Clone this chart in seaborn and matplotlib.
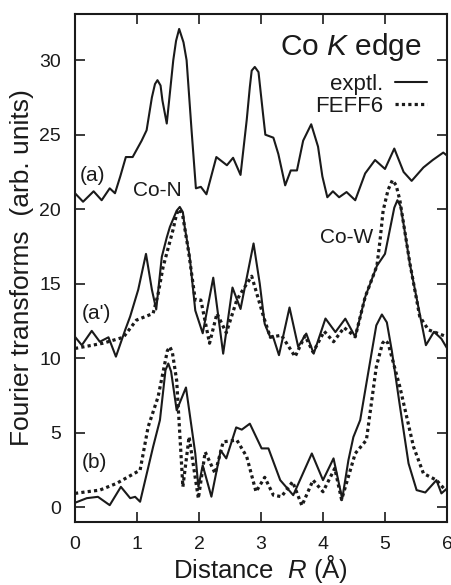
import matplotlib
matplotlib.use("Agg")
import matplotlib.pyplot as plt
from matplotlib.lines import Line2D
import seaborn as sns

# Curve (a): experimental only, shifted up
a_x = [0, 0.13, 0.30, 0.43, 0.56, 0.645, 0.73, 0.82, 0.93, 1.075, 1.155, 1.24, 1.29, 1.33, 1.38,
       1.41, 1.48, 1.585, 1.63, 1.68, 1.75, 1.80, 1.88, 1.95, 2.03, 2.12, 2.28, 2.45, 2.55, 2.67,
       2.77, 2.82, 2.85, 2.90, 2.96, 3.03, 3.07, 3.20, 3.28, 3.39, 3.48, 3.58, 3.68, 3.81, 3.92,
       3.99, 4.07, 4.16, 4.26, 4.38, 4.52, 4.68, 4.84, 5.00, 5.15, 5.30, 5.43, 5.62, 5.77, 5.94, 6.0]
a_y = [21.07, 20.5, 21.2, 20.6, 21.4, 21.07, 22.2, 23.5, 23.5, 24.6, 25.3, 27.5, 28.4, 28.66, 28.3,
       27.3, 25.75, 30.0, 31.3, 32.1, 31.2, 30.0, 25.3, 21.4, 21.5, 21.0, 23.5, 22.95, 23.45, 22.3,
       26.0, 28.2, 29.3, 29.55, 29.2, 26.5, 25.0, 24.8, 23.7, 21.6, 22.6, 22.6, 24.6, 25.7, 24.2,
       22.2, 20.8, 21.2, 20.8, 21.15, 20.6, 22.4, 23.3, 22.7, 24.07, 22.5, 21.9, 22.8, 23.3, 23.8, 23.6]

# Curve (a'): exptl. and FEFF6
ap_x = [0, 0.11, 0.27, 0.40, 0.54, 0.66, 0.81, 0.89, 1.02, 1.145, 1.24, 1.31, 1.40, 1.48, 1.53,
        1.64, 1.69, 1.74, 1.77, 1.85, 1.94, 2.06, 2.23, 2.39, 2.54, 2.67, 2.88, 2.98, 3.06, 3.15,
        3.19, 3.29, 3.46, 3.60, 3.73, 3.85, 4.04, 4.20, 4.36, 4.52, 4.68, 4.87, 5.00, 5.15, 5.20,
        5.25, 5.30, 5.40, 5.54, 5.66, 5.79, 5.91, 6.0]
ap_y = [11.43, 10.87, 11.83, 11.1, 11.4, 10.1, 11.9, 12.8, 14.6, 17.0, 14.6, 13.27, 16.8, 18.1, 18.8,
        19.9, 20.15, 19.8, 18.8, 16.8, 13.2, 11.67, 15.4, 10.3, 14.74, 13.3, 17.7, 15.0, 12.3, 11.4,
        11.5, 10.2, 13.4, 10.76, 11.65, 10.3, 12.66, 11.75, 12.65, 11.43, 14.1, 16.2, 17.0, 20.1, 20.6,
        20.2, 19.0, 16.35, 13.4, 10.87, 11.77, 11.3, 10.67]
apf_x = [0, 0.45, 0.78, 0.99, 1.26, 1.34, 1.42, 1.58, 1.64, 1.69, 1.74, 1.83, 1.94, 2.03, 2.17,
         2.29, 2.44, 2.61, 2.71, 2.85, 3.04, 3.15, 3.33, 3.55, 3.71, 3.84, 4.02, 4.17, 4.34, 4.52,
         4.68, 4.87, 4.92, 4.97, 5.05, 5.12, 5.18, 5.24, 5.40, 5.56, 5.70, 5.83, 6.0]
apf_y = [10.65, 11.0, 11.4, 12.55, 13.0, 14.3, 16.1, 18.6, 19.7, 20.0, 19.5, 17.2, 13.9, 13.9, 11.0,
         13.0, 11.7, 13.9, 14.6, 15.5, 12.8, 11.4, 11.54, 10.1, 11.5, 10.4, 11.8, 11.1, 12.05, 11.43,
         14.1, 16.2, 17.9, 19.9, 21.3, 21.95, 21.6, 20.6, 16.4, 12.8, 11.9, 11.7, 11.43]

# Curve (b): exptl. and FEFF6
b_x = [0, 0.19, 0.37, 0.56, 0.74, 0.89, 0.97, 1.05, 1.26, 1.37, 1.46, 1.505, 1.55, 1.64, 1.79,
       1.94, 1.99, 2.06, 2.20, 2.35, 2.44, 2.60, 2.69, 2.82, 3.01, 3.12, 3.31, 3.52, 3.82, 4.00,
       4.17, 4.31, 4.41, 4.49, 4.60, 4.70, 4.79, 4.86, 4.95, 5.03, 5.11, 5.24, 5.38, 5.51, 5.65,
       5.83, 5.91, 6.0]
b_y = [0.29, 0.6, 0.69, 0.13, 1.36, 0.6, 0.69, 0.36, 4.05, 5.84, 9.2, 9.64, 9.1, 6.5, 8.03,
       3.6, 1.36, 2.8, 0.7, 3.8, 3.27, 5.35, 5.2, 5.6, 3.94, 3.94, 1.81, 0.8, 3.6, 1.81,
       3.27, 0.55, 3.15, 4.7, 5.84, 8.3, 10.5, 12.2, 12.93, 12.4, 10.5, 6.8, 2.93, 1.14, 0.98,
       1.81, 0.92, 1.25]
bf_x = [0, 0.19, 0.40, 0.67, 1.05, 1.18, 1.34, 1.49, 1.53, 1.57, 1.64, 1.74, 1.84, 1.99, 2.10,
        2.26, 2.39, 2.61, 2.77, 2.92, 3.06, 3.20, 3.33, 3.51, 3.66, 3.84, 4.00, 4.19, 4.30, 4.52,
        4.70, 4.86, 4.96, 5.00, 5.05, 5.24, 5.46, 5.62, 5.83, 5.95, 6.0]
bf_y = [0.92, 1.03, 1.14, 1.59, 2.48, 5.39, 7.4, 10.5, 10.76, 10.4, 8.5, 1.36, 4.72, 0.58, 3.7,
        2.26, 4.38, 4.5, 3.38, 1.03, 2.0, 0.8, 0.7, 1.7, 0.1, 1.81, 1.03, 2.6, 0.5, 3.6,
        4.5, 9.42, 11.0, 11.2, 11.0, 8.07, 4.05, 2.26, 1.81, 1.25, 1.14]

x_ticks = [0, 1, 2, 3, 4, 5, 6]
y_ticks = [0, 5, 10, 15, 20, 25, 30]

sns.set_theme(style="ticks")
plt.rcParams['font.family'] = ['Liberation Sans', 'DejaVu Sans']
plt.rcParams['mathtext.fontset'] = 'custom'
plt.rcParams['mathtext.rm'] = 'Liberation Sans'
plt.rcParams['mathtext.it'] = 'Liberation Sans:italic'

INK = '#1a1a1a'
DOT = (0, (1, 1))

fig = plt.figure(figsize=(4.51, 5.85), dpi=100)
ax = fig.add_axes([0.1663, 0.1077, 0.8248, 0.8683])

sns.lineplot(x=a_x, y=a_y, ax=ax, color=INK, lw=1.5)
sns.lineplot(x=ap_x, y=ap_y, ax=ax, color=INK, lw=1.5)
sns.lineplot(x=apf_x, y=apf_y, ax=ax, color=INK, lw=2.3, linestyle=DOT)
sns.lineplot(x=b_x, y=b_y, ax=ax, color=INK, lw=1.5)
sns.lineplot(x=bf_x, y=bf_y, ax=ax, color=INK, lw=2.3, linestyle=DOT)

ax.set_xlim(0, 6)
ax.set_ylim(-1, 33.1)
ax.set_xticks(x_ticks)
ax.set_yticks(y_ticks)
ax.tick_params(direction='in', top=True, right=True, length=7, width=1.2,
               labelsize=14, colors=INK, pad=10)
for s in ax.spines.values():
    s.set_linewidth(1.5)
    s.set_color(INK)

ax.set_xlabel('Distance  $\\mathit{R}$ (Å)', fontsize=18.5, color=INK, labelpad=0)
ax.set_ylabel('Fourier transforms  (arb. units)', fontsize=19, color=INK, labelpad=4)

ax.text(0.933, 0.935, 'Co $\\mathit{K}$ edge', transform=ax.transAxes, fontsize=21.5,
        ha='right', va='center', color=INK)
ax.text(0.013, 0.683, '(a)', transform=ax.transAxes, fontsize=15, ha='left', va='center', color=INK)
ax.text(0.018, 0.411, "(a')", transform=ax.transAxes, fontsize=15, ha='left', va='center', color=INK)
ax.text(0.018, 0.118, '(b)', transform=ax.transAxes, fontsize=15, ha='left', va='center', color=INK)
ax.text(0.156, 0.652, 'Co-N', transform=ax.transAxes, fontsize=15, ha='left', va='center', color=INK)
ax.text(0.659, 0.561, 'Co-W', transform=ax.transAxes, fontsize=15, ha='left', va='center', color=INK)

handles = [Line2D([], [], color=INK, lw=1.5),
           Line2D([], [], color=INK, lw=2.3, linestyle=DOT)]
ax.legend(handles, ['exptl.', 'FEFF6'], loc='upper right', bbox_to_anchor=(0.946, 0.882),
          frameon=False, markerfirst=False, fontsize=16, handlelength=1.45,
          handletextpad=0.5, labelspacing=0.05, borderpad=0, borderaxespad=0,
          labelcolor=INK)

fig.savefig('out.png', dpi=100)
